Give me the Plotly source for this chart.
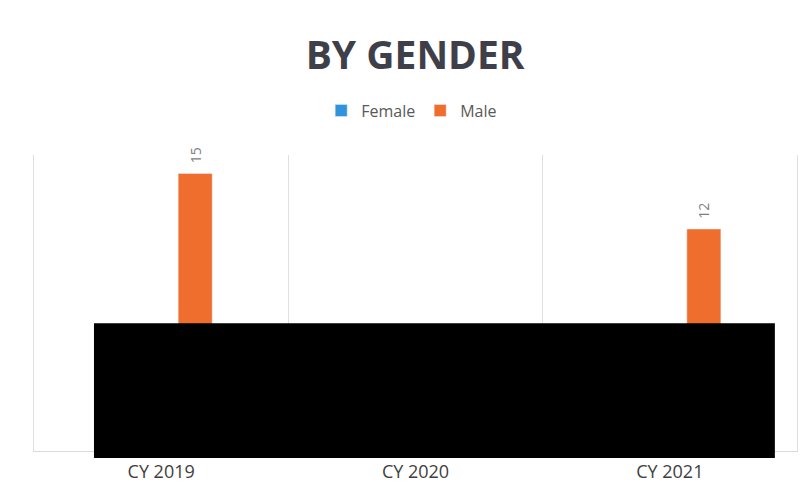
import plotly.graph_objects as go

categories = ["CY 2019", "CY 2020", "CY 2021"]
female = [3, 4, 2]      # hidden under the redaction box in the reference (estimated)
male = [15, 4, 12]      # 2020 value hidden under the redaction box (estimated)

FEMALE_COLOR = "#3193dc"
MALE_COLOR = "#ef6d2d"
FONT = "Open Sans"
NB = "\u00a0\u00a0"

fig = go.Figure()
fig.add_trace(go.Bar(
    name="Female", x=categories, y=female, marker_color=FEMALE_COLOR,
    texttemplate=NB + "%{y}", textposition="outside", textangle=-90,
    textfont=dict(size=14, color="#808080", family=FONT), cliponaxis=False,
))
fig.add_trace(go.Bar(
    name="Male", x=categories, y=male, marker_color=MALE_COLOR,
    texttemplate=NB + "%{y}", textposition="outside", textangle=-90,
    textfont=dict(size=14, color="#808080", family=FONT), cliponaxis=False,
))

# page body has an 8px margin, so the figure is 8px smaller than the window
fig.update_layout(
    width=803, height=485,
    margin=dict(l=26, r=14, t=147, b=42, autoexpand=False),
    paper_bgcolor="white", plot_bgcolor="white",
    barmode="group", bargap=0.465, bargroupgap=0.5,
    title=dict(text="<b>BY GENDER</b>", x=0.507, xanchor="center", y=0.903, yanchor="middle",
               font=dict(size=39, color="#3f3f4a", family=FONT)),
    legend=dict(orientation="h", x=0.495, xanchor="center", y=1.15, yanchor="middle",
                font=dict(size=16, color="#595959", family=FONT), itemwidth=30,
                traceorder="normal"),
    xaxis=dict(type="category", tickson="boundaries", showgrid=True, gridcolor="#e0e0e0",
               gridwidth=1, showline=True, linecolor="#d9d9d9", ticks="",
               ticklabelstandoff=4,
               tickfont=dict(size=18, color="#404040", family=FONT)),
    yaxis=dict(range=[0, 16], showgrid=False, showticklabels=False, zeroline=False,
               showline=True, mirror=True, linecolor="#e0e0e0", ticks=""),
    showlegend=True,
)

# redaction box present in the reference image
fig.add_shape(type="rect", xref="paper", yref="paper",
              x0=0.0786, x1=0.971, y0=-0.024, y1=0.432,
              fillcolor="black", line=dict(width=0), layer="above")

fig.write_html("out.html")
